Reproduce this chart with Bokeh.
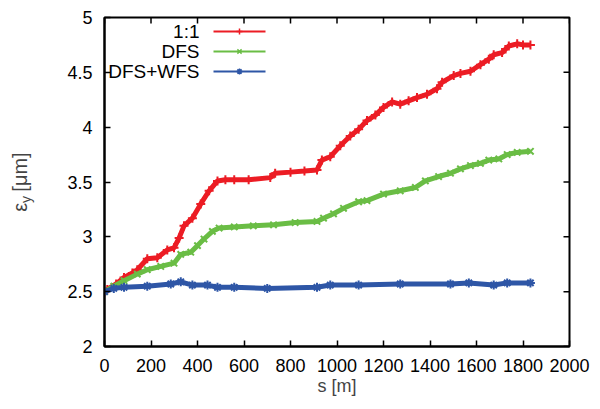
from bokeh.plotting import figure
from bokeh.models import Range1d, FixedTicker, Label, LinearAxis
from bokeh.embed import file_html
from bokeh.resources import INLINE

# ---- data ----
s_11 = [0, 12, 50, 84, 120, 141, 184, 227, 270, 299, 321, 342, 378, 414, 450, 486, 520, 558,
        620, 713, 734, 800, 860, 914, 935, 971, 1014, 1057, 1093, 1129, 1165, 1200, 1237,
        1272, 1308, 1344, 1387, 1430, 1452, 1502, 1531, 1574, 1617, 1653, 1674, 1710, 1739,
        1775, 1800, 1832]
eps_11 = [2.50, 2.52, 2.57, 2.63, 2.67, 2.70, 2.80, 2.81, 2.88, 2.90, 2.99, 3.10, 3.17, 3.30,
          3.42, 3.51, 3.52, 3.52, 3.52, 3.54, 3.58, 3.59, 3.60, 3.61, 3.70, 3.73, 3.83, 3.92,
          3.98, 4.06, 4.11, 4.18, 4.23, 4.21, 4.24, 4.27, 4.30, 4.35, 4.41, 4.47, 4.49, 4.51,
          4.57, 4.62, 4.66, 4.68, 4.74, 4.76, 4.75, 4.75]

s_dfs = [0, 40, 84, 141, 184, 242, 299, 328, 371, 400, 428, 464, 493, 558, 640, 727, 820, 914,
         942, 985, 1028, 1093, 1129, 1200, 1272, 1337, 1380, 1437, 1488, 1531, 1574, 1617,
         1653, 1696, 1732, 1775, 1832]
eps_dfs = [2.50, 2.55, 2.60, 2.66, 2.70, 2.73, 2.76, 2.84, 2.86, 2.92, 2.98, 3.05, 3.08, 3.09,
           3.10, 3.11, 3.13, 3.14, 3.17, 3.21, 3.26, 3.32, 3.33, 3.39, 3.42, 3.45, 3.51, 3.55,
           3.58, 3.62, 3.65, 3.67, 3.70, 3.71, 3.75, 3.77, 3.78]

s_wfs = [0, 40, 84, 184, 285, 328, 378, 443, 486, 558, 700, 914, 971, 1093, 1272, 1488, 1567,
         1674, 1732, 1832]
eps_wfs = [2.50, 2.53, 2.54, 2.55, 2.57, 2.59, 2.56, 2.56, 2.54, 2.54, 2.53, 2.54, 2.56, 2.56,
           2.57, 2.57, 2.58, 2.56, 2.58, 2.58]

series_names = ["1:1", "DFS", "DFS+WFS"]
series_colors = ["#ec1c24", "#6abd45", "#2e56a6"]
series_markers = ["cross", "x", "asterisk"]

x_ticks = [0, 200, 400, 600, 800, 1000, 1200, 1400, 1600, 1800, 2000]
x_tick_labels = ["0", "200", "400", "600", "800", "1000", "1200", "1400", "1600", "1800", "2000"]
y_ticks = [2, 2.5, 3, 3.5, 4, 4.5, 5]
y_tick_labels = ["2", "2.5", "3", "3.5", "4", "4.5", "5"]

x_label = "s [m]"
y_label_main = "ε\u00a0\u00a0[μm]"   # epsilon ... [um]
y_label_sub = "y" + "\u00a0" * 9    # subscript y (padded so it sits right after epsilon)

X0, X1, Y0, Y1 = 0, 2000, 2, 5
FONT = "Liberation Sans"
FS = "18px"

FW, FH = 465, 329
BL, BT, BR, BB = 104, 17, 23, 55
TICK = 6  # px, inward

p = figure(frame_width=FW, frame_height=FH, x_range=Range1d(X0, X1), y_range=Range1d(Y0, Y1),
           output_backend="svg", toolbar_location=None,
           min_border_left=BL, min_border_top=BT, min_border_right=BR, min_border_bottom=BB)
p.xgrid.visible = False
p.ygrid.visible = False
p.outline_line_color = "black"
p.outline_line_width = 2
p.background_fill_color = "white"
p.border_fill_color = "white"


def key(t):
    return int(t) if float(t).is_integer() else t


def style_axis(ax, ticks, labels, standoff):
    ax.ticker = FixedTicker(ticks=ticks)
    ax.major_label_overrides = {key(t): l for t, l in zip(ticks, labels)}
    ax.major_tick_in = TICK
    ax.major_tick_out = 0
    ax.minor_tick_in = 0
    ax.minor_tick_out = 0
    ax.axis_line_width = 2
    ax.axis_line_color = "black"
    ax.major_tick_line_width = 1.5
    ax.major_tick_line_color = "black"
    ax.major_label_text_font = FONT
    ax.major_label_text_color = "black"
    ax.major_label_text_font_size = FS
    ax.major_label_standoff = standoff


style_axis(p.xaxis[0], x_ticks, x_tick_labels, 12)
style_axis(p.yaxis[0], y_ticks, y_tick_labels, 12)
p.xaxis[0].axis_label = x_label
p.xaxis[0].axis_label_text_font = FONT
p.xaxis[0].axis_label_text_font_size = FS
p.xaxis[0].axis_label_text_font_style = "normal"
p.xaxis[0].axis_label_standoff = 1

# y label: subscript part on the real y axis, main part on an outer bare axis
yax = p.yaxis[0]
yax.axis_label = y_label_sub
yax.axis_label_text_font = FONT
yax.axis_label_text_font_size = "14px"
yax.axis_label_text_font_style = "normal"
yax.axis_label_standoff = 30

outer = LinearAxis(ticker=FixedTicker(ticks=[]), axis_line_color=None,
                   major_tick_line_color=None, minor_tick_line_color=None,
                   major_label_standoff=0, axis_label=y_label_main,
                   axis_label_text_font=FONT, axis_label_text_font_size="20px",
                   axis_label_text_font_style="normal", axis_label_standoff=-15)
p.add_layout(outer, "left")


def dx(px):
    return X0 + (px - BL) / FW * (X1 - X0)


def dy(py):
    return Y1 - (py - BT) / FH * (Y1 - Y0)


# mirrored inward ticks on top and right borders
tick_dx = TICK / FW * (X1 - X0)
tick_dy = TICK / FH * (Y1 - Y0)
p.segment(x0=x_ticks, x1=x_ticks, y0=[Y1] * len(x_ticks), y1=[Y1 - tick_dy] * len(x_ticks),
          line_color="black", line_width=1.5)
p.segment(x0=[X1] * len(y_ticks), x1=[X1 - tick_dx] * len(y_ticks), y0=y_ticks, y1=y_ticks,
          line_color="black", line_width=1.5)

# ---- data lines ----
for xs, ys, c, m in zip([s_11, s_dfs, s_wfs], [eps_11, eps_dfs, eps_wfs], series_colors, series_markers):
    p.line(xs, ys, line_color=c, line_width=5)
    p.scatter(xs, ys, marker=m, size=9, line_color=c, line_width=2, fill_color=c)

# ---- legend (placed in pixels, mapped to data) ----
leg_text_right = 199
leg_line_x = (213, 265)
leg_rows = [31, 51, 71]
for name, c, m, row in zip(series_names, series_colors, series_markers, leg_rows):
    p.add_layout(Label(x=dx(leg_text_right), y=dy(row), text=name, text_align="right",
                       text_baseline="middle", text_font=FONT, text_font_size="19px",
                       text_color="black"))
    p.line([dx(leg_line_x[0]), dx(leg_line_x[1])], [dy(row), dy(row)], line_color=c, line_width=2)
    p.scatter([dx(sum(leg_line_x) / 2)], [dy(row)], marker=m, size=6, line_color=c,
              line_width=1.5, fill_color=c)

open("out.html", "w").write(file_html(p, INLINE))
